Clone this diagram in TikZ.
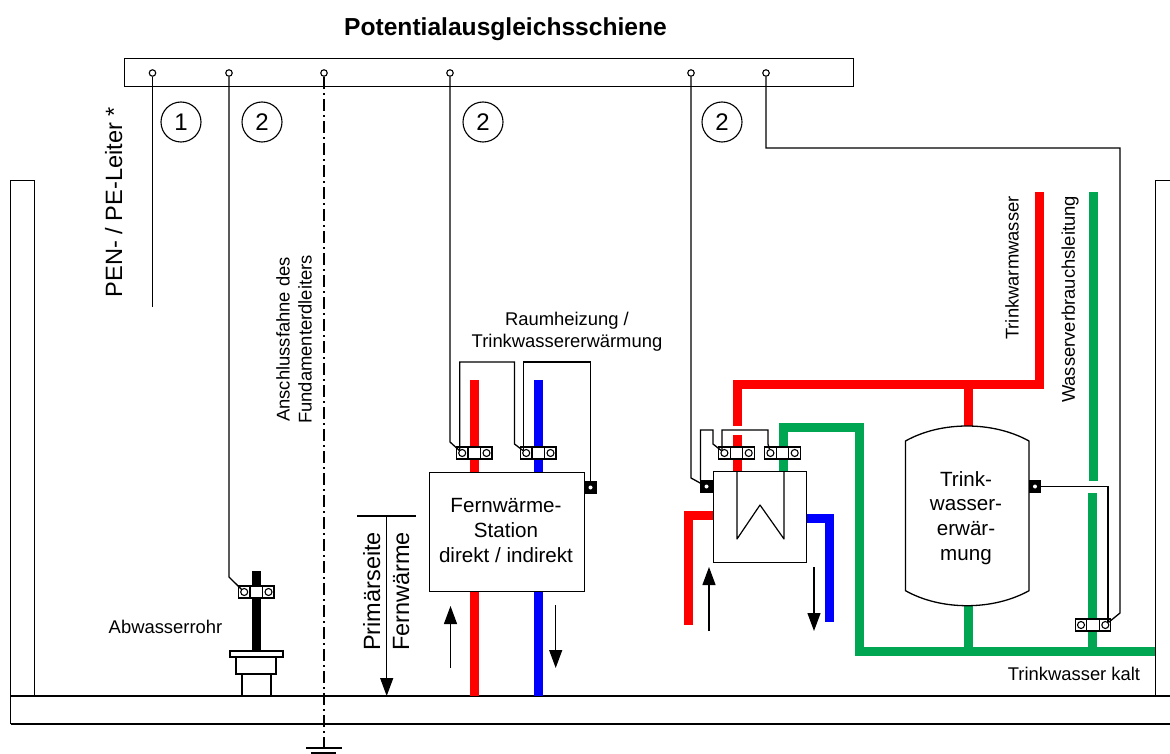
\documentclass[tikz,border=0pt]{standalone}
\usepackage{fontspec}
\setmainfont{Liberation Sans}
\usetikzlibrary{arrows.meta,calc}
\newcommand{\fs}[1]{\fontsize{#1}{#1}\selectfont\setlength{\baselineskip}{1.2\baselineskip}}
\definecolor{pgreen}{RGB}{0,166,81}
\definecolor{pred}{RGB}{255,0,0}
\definecolor{pblue}{RGB}{0,0,255}
\tikzset{
 wire/.style={line width=1.3pt,black},
 terminal/.style={circle,draw,line width=1.1pt,fill=white,minimum size=6.5pt,inner sep=0pt},
 clampeye/.style={circle,draw,line width=1.1pt,fill=white,minimum size=7pt,inner sep=0pt},
 lug/.style={rectangle,fill=black,minimum size=12.5pt,inner sep=0pt},
 lugdot/.style={circle,fill=white,minimum size=4pt,inner sep=0pt},
 pipe/.style={line width=9pt,miter limit=10},
 num/.style={circle,draw,line width=1.1pt,minimum size=40pt,inner sep=0pt,font=\fs{24}},
 lab/.style={font=\fs{18.4},inner sep=0pt,align=center},
 big/.style={font=\fs{20.6},inner sep=0pt,align=center},
 arr/.style={line width=1.2pt,-{Triangle[length=18pt,width=13pt]}},
 box/.style={draw,line width=1.3pt,fill=white,inner sep=0pt}
}
\newcommand{\clampat}[3]{% name, x of left edge, y centre
 \draw[line width=1.2pt,fill=white] (#2,#3-6) rectangle (#2+35.5,#3+6);
 \draw[line width=1.2pt] (#2+11.5,#3-6) -- (#2+11.5,#3+6) (#2+24,#3-6) -- (#2+24,#3+6);
 \node[clampeye] (#1a) at (#2+5.7,#3) {};
 \node[clampeye] (#1b) at (#2+30,#3) {};
}
\begin{document}
\begin{tikzpicture}[x=1pt,y=-1pt]
\useasboundingbox (0,0) rectangle (1170,754);
% building
\draw[line width=1.1pt] (1170,696) -- (10.5,696) (10.5,724) -- (1170,724);
\draw[line width=1.1pt] (10.5,724) -- (10.5,180.5) -- (34.5,180.5) -- (34.5,696);
\draw[line width=1.1pt] (1170,180.5) -- (1155.5,180.5) -- (1155.5,696);
% busbar
\node[draw,line width=1.1pt,minimum width=729pt,minimum height=28pt,inner sep=0pt,anchor=north west] (bar) at (124,58) {};
\node[font=\fs{24.6}\bfseries,inner sep=0pt] (title) at (505.5,29) {Potentialausgleichsschiene};
% pipes
\draw[pipe,pred] (474.5,380) -- (474.5,696);
\draw[pipe,pblue] (538.5,380) -- (538.5,696);
\draw[pipe,black] (256.5,571) -- (256.5,652);
\draw[pipe,pred] (737,426) -- (737,384.5) -- (1039,384.5) -- (1039,192);
\draw[pipe,pred] (737,435) -- (737,471);
\draw[pipe,pred] (968,385) -- (968,432);
\draw[pipe,pgreen] (783,471) -- (783,427.5) -- (859.5,427.5) -- (859.5,651.5) -- (1155,651.5);
\draw[pipe,pgreen] (968,600) -- (968,651);
\draw[pipe,pgreen] (1093.5,192) -- (1093.5,481);
\draw[pipe,pgreen] (1092.5,493) -- (1092.5,651);
\draw[pipe,pred] (713,515) -- (688.5,515) -- (688.5,625);
\draw[pipe,pblue] (806,518) -- (829,518) -- (829,622);
% station
\node[box,minimum width=155pt,minimum height=119pt,anchor=north west] (station) at (429,472) {};
\node[big,anchor=base] (stationtext) at (506,562) {Fernwärme-\\Station\\direkt / indirekt};
% exchanger
\node[box,minimum width=93pt,minimum height=91pt,anchor=north west] (hx) at (713,471) {};
\draw[line width=1.2pt,line join=round] (737,471) -- (737,539) -- (760,505) -- (784,539) -- (784,471);
% tank
\draw[line width=1.3pt,fill=white] (905.5,441) .. controls (941,421) and (993,421) .. (1029,441) -- (1029,590.7) .. controls (993,610.7) and (941,610.7) .. (905.5,590.7) -- cycle;
\node[big] (tanktext) at (966,518) {Trink-\\wasser-\\erwär-\\mung};
% waste pipe
\draw[line width=1.1pt,fill=white] (230,651) rectangle (283,657);
\draw[line width=1.1pt,fill=white] (236,657) rectangle (276,674);
\draw[line width=1.1pt,fill=white] (242,674) rectangle (271,696);
% clamps
\clampat{ca}{238.5}{592}
\clampat{cb}{456.5}{453}
\clampat{cc}{520.5}{453}
\clampat{cd}{718.7}{453}
\clampat{ce}{764.7}{453}
\clampat{cf}{1075.3}{625}
% lugs
\node[lug] (l1) at (590.5,487.5) {}; \node[lugdot] (l1d) at (l1) {};
\node[lug] (l2) at (706.5,486.5) {}; \node[lugdot] (l2d) at (l2) {};
\node[lug] (l3) at (1035,486.5) {}; \node[lugdot] (l3d) at (l3) {};
% terminals
\node[terminal] (t1) at (152.5,73) {};
\node[terminal] (t2) at (229,73) {};
\node[terminal] (t3) at (324,73) {};
\node[terminal] (t4) at (450,73) {};
\node[terminal] (t5) at (691,73) {};
\node[terminal] (t6) at (766,73) {};
% earth
\coordinate (pe) at (152.5,307);
\coordinate (gnd) at (324,748);
\draw[line width=1.8pt,dash pattern=on 12pt off 4pt on 2pt off 4pt] (t3) -- (gnd);
\draw[line width=1.1pt] (306,748) -- (342,748) (311,753) -- (336,753);
% connectors
\draw[line width=1.1pt] (t1) -- (pe);
\draw[wire] (t2) -- (229,577) -- (caa);
\draw[wire] (t4) -- (450,442) -- (cba);
\draw[wire] (459.7,450) -- (459.7,362) -- (514.5,362) -- (514.5,444) -- (cca);
\draw[wire] (523.7,450) -- (523.7,362) -- (590.5,362) -- (l1);
\draw[wire] (t5) -- (691,478) -- (l2);
\draw[wire] (700.5,480) -- (700.5,430) -- (713,430) -- (713,444) -- (cda);
\draw[wire] (722,450) -- (722,430) -- (768,430) -- (768,444) -- (cea);
\draw[wire] (t6) -- (766,148) -- (1120,148) -- (1120,613) -- (cfb);
\draw[wire] (l3) -- (1108,486.5) -- (1108,622);
% arrows
\coordinate (a1s) at (450.5,668); \coordinate (a1e) at (450.5,606);
\coordinate (a2s) at (555.7,605); \coordinate (a2e) at (555.7,668);
\coordinate (a3s) at (709,631); \coordinate (a3e) at (709,567);
\coordinate (a4s) at (814,567); \coordinate (a4e) at (814,631);
\coordinate (a5s) at (386.7,516); \coordinate (a5e) at (386.7,696);
\draw[arr] (a1s) -- (a1e);
\draw[arr] (a2s) -- (a2e);
\draw[arr] (a3s) -- (a3e);
\draw[arr] (a4s) -- (a4e);
\draw[arr] (a5s) -- (a5e);
\draw[line width=1.1pt] (357,516) -- (416,516);
% numbers
\node[num] (n1) at (181,122) {1};
\node[num] (n2) at (262,122) {2};
\node[num] (n3) at (483,122) {2};
\node[num] (n4) at (722,122) {2};
% labels
\node[font=\fs{23.6},inner sep=0pt,rotate=90,anchor=base] (pen) at (122,202) {PEN- / PE-Leiter *};
\node[lab,rotate=90] (anschl) at (294,339.5) {Anschlussfahne des\\Fundamenterdleiters};
\node[lab] (raum) at (567,332) {Raumheizung /\\Trinkwassererwärmung};
\node[lab] (abw) at (165.5,627) {Abwasserrohr};
\node[lab] (kalt) at (1074,674) {Trinkwasser kalt};
\node[lab,rotate=90] (warm) at (1012,268) {Trinkwarmwasser};
\node[lab,rotate=90] (verb) at (1070,299.5) {Wasserverbrauchsleitung};
\node[big,font=\fs{23.5},rotate=90,anchor=base] (prim) at (380,591.5) {Primärseite};
\node[big,font=\fs{23.5},rotate=90,anchor=base] (fern) at (409,591.5) {Fernwärme};
\end{tikzpicture}
\end{document}
